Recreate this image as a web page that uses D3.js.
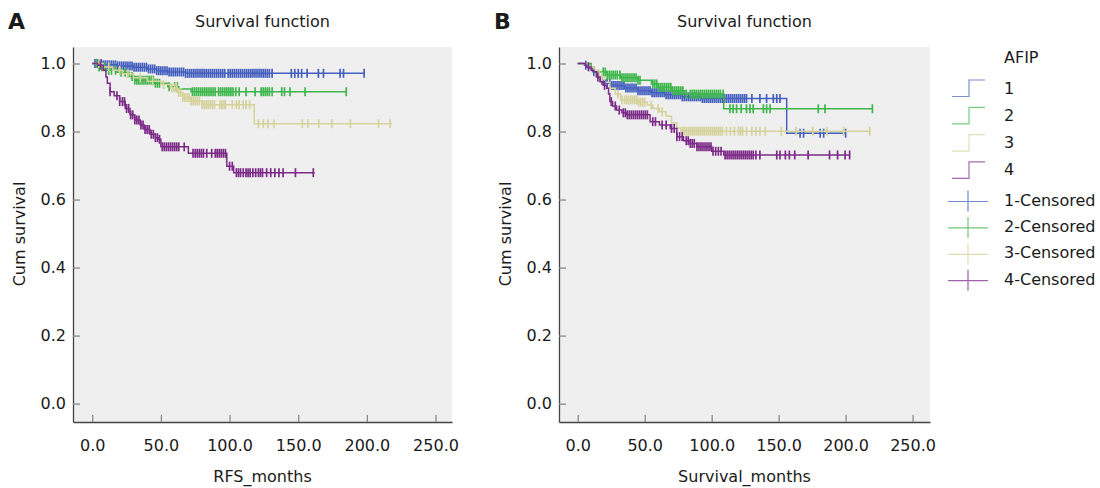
<!DOCTYPE html>
<html>
<head>
<meta charset="utf-8">
<script src="https://cdn.jsdelivr.net/npm/d3@7"></script>
<style>
  body { margin: 0; background: #fff; }
  svg text { font-family: "DejaVu Sans", Verdana, sans-serif; fill: #1a1a1a; }
</style>
</head>
<body>
<div id="chart"></div>
<script>
// ============================================================================
// DATA  ([time, survival after step])
// ============================================================================

const groups     = ["1", "2", "3", "4"];
const lineColors = ["#4560bf", "#3db64b", "#d6d29c", "#7d2b88"];
const yTicks     = [0, 0.2, 0.4, 0.6, 0.8, 1.0];
const xTicks     = [0, 50, 100, 150, 200, 250];

// Panel A — RFS
const rfsSteps = [
    [[0, 1], [8, 0.996], [18, 0.993], [30, 0.989], [40, 0.984], [47, 0.979], [55, 0.975], [68, 0.971]],
    [[0, 1], [5, 0.99], [10, 0.98], [18, 0.974], [27, 0.962], [31, 0.951], [45, 0.942], [55, 0.932], [63, 0.925], [72, 0.917]],
    [[0, 1], [8, 0.99], [15, 0.98], [22, 0.97], [30, 0.958], [40, 0.948], [50, 0.938], [57, 0.928], [62, 0.915], [66, 0.9], [72, 0.89], [80, 0.879], [118, 0.823]],
    [[0, 1], [4, 0.995], [8, 0.98], [10, 0.96], [11, 0.942], [13, 0.917], [16, 0.905], [20, 0.888], [24, 0.868], [27.5, 0.849],
     [31, 0.834], [35, 0.819], [38, 0.806], [42, 0.792], [46, 0.782], [48, 0.777], [50, 0.755], [70, 0.736], [98, 0.698], [103, 0.679]]
];
const rfsEnd = [198, 185, 218, 162];
const rfsCensored = [
    [2, 3.5, 5, 6.5, 8, 9.5, 11, 12.5, 14, 15.5, 17, 18.5, 20, 21.5, 23, 24.5, 26, 27.5, 29, 30.5, 32, 33.5, 35, 36.5, 38,
     39.5, 41, 42.5, 44, 45.5, 47, 48.5, 50, 51.5, 53, 54.5, 56, 57.5, 59, 60.5, 62, 63.5, 65, 66.5, 68, 69.5, 71, 72.5,
     74, 75.5, 77, 78.5, 80, 81.5, 83, 84.5, 86, 87.5, 89, 90.5, 92, 93.5, 95, 96.5, 99, 100.5, 102, 103.5, 105, 106.5,
     108, 109.5, 111, 112.5, 114, 115.5, 117, 118.5, 120, 121.5, 123, 124.5, 126, 127.5, 129, 131,
     145, 147.5, 150, 152.5, 156.5, 164.7, 168.4, 180.5, 183, 198],
    [3, 5, 7, 9, 12, 14, 17, 21, 24, 29, 31, 32.5, 34, 35.5, 37, 38.5, 40, 41.5, 43, 44.5, 46, 47.5, 49, 56, 60, 62,
     73, 74.5, 76, 77.5, 79, 80.5, 82, 83.5, 85, 86.5, 88, 89.5, 92, 93.5, 95, 96.5, 98, 99.5, 101, 102.5, 104.5,
     107, 112, 118.6, 123, 124.5, 126, 127.5, 129, 131, 138, 140, 144, 155, 185],
    [5, 12, 20, 26, 35, 44, 52, 58, 60, 61.5, 63, 64.5, 66, 67.5, 69, 70.5, 72, 73.5, 75, 76.5, 78, 80, 81.5, 83,
     84.5, 86, 87.5, 89, 93, 94.5, 96, 97, 102, 105, 107, 110, 112, 114.6, 121, 124.6, 128, 132.4, 153, 157, 165,
     174.5, 188, 208.5, 217],
    [6, 13, 18, 20, 22, 23.5, 25, 26.5, 28, 29.5, 31, 32.5, 34, 35.5, 37, 38.5, 40, 41.5, 43, 44.5, 46, 47.5, 49, 51,
     52.5, 54, 55.5, 57, 58.5, 60, 61.5, 63, 67, 73.4, 75, 76.5, 78, 79.5, 81, 83.4, 87, 89.6, 91, 92.5, 94, 95.5, 97,
     100, 102, 105, 106.5, 108, 110, 112, 113.5, 115, 117, 119, 121, 122.5, 124, 127, 130, 133, 136, 139, 148, 161]
];

// Panel B — overall survival
const osSteps = [
    [[0, 1], [5, 0.995], [8, 0.985], [11, 0.976], [14, 0.962], [17, 0.951], [21, 0.942], [25, 0.935], [35, 0.928],
     [45, 0.92], [55, 0.914], [65, 0.908], [78, 0.902], [92, 0.897], [156, 0.795]],
    [[0, 1], [10, 0.99], [12, 0.975], [22, 0.966], [32, 0.958], [45, 0.951], [55, 0.94], [60, 0.93], [70, 0.92], [80, 0.91], [109, 0.867]],
    [[0, 1], [8, 0.99], [12, 0.98], [16, 0.961], [20, 0.945], [24, 0.927], [28, 0.91], [32, 0.893], [45, 0.886], [52, 0.878],
     [56, 0.868], [61, 0.858], [66, 0.845], [70, 0.825], [74, 0.81], [77, 0.801]],
    [[0, 1], [6, 0.99], [10, 0.98], [12, 0.976], [14, 0.96], [16.6, 0.946], [19, 0.936], [21.6, 0.927], [23, 0.91], [24, 0.888],
     [26, 0.875], [29, 0.863], [33, 0.855], [36.5, 0.849], [54, 0.829], [61, 0.819], [69, 0.809], [74, 0.785], [79, 0.773],
     [84, 0.765], [89, 0.755], [100, 0.742], [109, 0.731]]
];
const osEnd = [200, 220, 218, 203];
const osCensored = [
    [6, 12, 18, 22, 24, 25.5, 27, 28.5, 30, 31.5, 33, 34.5, 36, 37.5, 39, 40.5, 42, 43.5, 45, 46.5, 48, 49.5, 51, 52.5,
     54, 55.5, 57, 58.5, 60, 61.5, 63, 64.5, 66, 67.5, 69, 70.5, 72, 73.5, 75, 76.5, 78, 79.5, 81, 82.5, 84, 85.5, 87,
     88.5, 90, 91.5, 93, 94.5, 96, 97.5, 99, 100.5, 102, 103.5, 105, 106.5, 108, 109.5, 111, 112.5, 114, 115.5, 117,
     118.5, 120, 121.5, 123, 124.5, 126, 130, 136, 141, 146, 148.6, 151, 166, 168.6, 181, 183.6, 200],
    [19, 20.5, 22, 23.5, 25, 26.5, 28, 29.5, 31.5, 33, 34.5, 36, 37.5, 39, 40.5, 42, 43.5, 45, 46.5, 56, 57.5, 59, 60.5,
     62, 63.5, 65, 66.5, 68, 69.5, 71, 72.5, 74, 75.5, 77, 78.5, 81, 84, 85.5, 87, 88.5, 90, 91.5, 93, 94.5, 96, 97.5,
     99, 100.5, 102, 103.5, 105, 106.5, 108.6, 113.6, 116, 118.6, 122, 126, 128.6, 131, 138.6, 141, 143.6, 179.6, 184.6, 220],
    [18, 30, 33, 35, 36.5, 38, 39.5, 41, 42.5, 44, 45.5, 47, 48.5, 50, 55, 60, 63, 78, 79.5, 81, 82.5, 84, 85.5, 87,
     88.5, 90, 91.5, 93, 94.5, 96, 97.5, 99, 100.5, 102, 103.5, 105, 106.5, 108, 111, 114, 117, 120, 121.5, 123, 126,
     130, 133, 136, 140, 152, 163, 175.5, 186, 198.5, 218],
    [8, 15, 20, 25, 28, 31, 34, 35.5, 37, 38.5, 40, 41.5, 43, 44.5, 46, 47.5, 49, 50.5, 52, 56, 58, 63, 66, 70, 72,
     74, 76, 78, 81, 82.5, 84, 85.5, 87, 89, 90.5, 92, 93.5, 95, 96.5, 98, 99.5, 101, 103, 105, 107, 110, 111.5, 113,
     114.5, 116, 117.5, 119, 120.5, 122, 123.5, 125, 126.5, 128, 129.5, 131, 133, 136,
     148.6, 151, 155, 158, 162, 172, 188, 194, 199.6, 203]
];


// ============================================================================
// SETUP
// ============================================================================

const svg = d3.select("#chart")
    .append("svg")
    .attr("width", 1100)
    .attr("height", 488);

const panels = [
    { letter: "A", xLabel: "RFS_months",      left: 73,  right: 452, xMax: 262, steps: rfsSteps, ends: rfsEnd, cens: rfsCensored },
    { letter: "B", xLabel: "Survival_months", left: 559, right: 930, xMax: 263, steps: osSteps,  ends: osEnd,  cens: osCensored }
];
const plotTop = 47, plotBottom = 422;

// survival value at time t (right-continuous step function)
function survAt(steps, t) {
    let s = steps[0][1];
    for (const [time, val] of steps) {
        if (time <= t) s = val;
    }
    return s;
}


// ============================================================================
// DRAW PANELS
// ============================================================================

panels.forEach(p => {
    const x = d3.scaleLinear()
        .domain([-14, p.xMax])
        .range([p.left, p.right]);

    const y = d3.scaleLinear()
        .domain([-0.054, 1.0485])
        .range([plotBottom, plotTop]);

    const g = svg.append("g");

    g.append("rect")
        .attr("x", p.left)
        .attr("y", plotTop)
        .attr("width", p.right - p.left)
        .attr("height", plotBottom - plotTop)
        .attr("fill", "#efefef");

    // axes, ticks pointing inward
    const yAxis = g.append("g")
        .attr("transform", `translate(${p.left},0)`)
        .call(d3.axisLeft(y).tickValues(yTicks).tickFormat(d3.format(".1f"))
            .tickSizeInner(-7).tickSizeOuter(0).tickPadding(7));

    const xAxis = g.append("g")
        .attr("transform", `translate(0,${plotBottom})`)
        .call(d3.axisBottom(x).tickValues(xTicks).tickFormat(d3.format(".1f"))
            .tickSizeInner(-7).tickSizeOuter(0).tickPadding(18));

    [yAxis, xAxis].forEach(a => {
        a.select(".domain").attr("stroke", "#444").attr("stroke-width", 1.3);
        a.selectAll(".tick line").attr("stroke", "#8a8a8a").attr("stroke-width", 1.3);
        a.selectAll(".tick text")
            .style("font-family", "DejaVu Sans, Verdana, sans-serif")
            .style("font-size", "16px")
            .attr("fill", "#1a1a1a");
    });

    // survival curves + censor ticks
    const line = d3.line()
        .x(d => x(d[0]))
        .y(d => y(d[1]))
        .curve(d3.curveStepAfter);

    p.steps.forEach((steps, i) => {
        const pts = [...steps, [p.ends[i], steps[steps.length - 1][1]]];

        g.append("path")
            .datum(pts)
            .attr("d", line)
            .attr("fill", "none")
            .attr("stroke", lineColors[i])
            .attr("stroke-width", 1.5);

        g.selectAll(null)
            .data(p.cens[i])
            .join("line")
            .attr("x1", d => x(d)).attr("x2", d => x(d))
            .attr("y1", d => y(survAt(steps, d)) - 4.5)
            .attr("y2", d => y(survAt(steps, d)) + 4.5)
            .attr("stroke", lineColors[i])
            .attr("stroke-width", 1.7);
    });

    const cx = (p.left + p.right) / 2;

    svg.append("text")
        .attr("x", cx)
        .attr("y", 27)
        .attr("text-anchor", "middle")
        .style("font-size", "16px")
        .text("Survival function");

    svg.append("text")
        .attr("x", cx)
        .attr("y", 482)
        .attr("text-anchor", "middle")
        .style("font-size", "16px")
        .text(p.xLabel);

    svg.append("text")
        .attr("transform", "rotate(-90)")
        .attr("x", -234)
        .attr("y", p.left - 48)
        .attr("text-anchor", "middle")
        .style("font-size", "16px")
        .text("Cum survival");

    svg.append("text")
        .attr("x", p.left - 65)
        .attr("y", 29)
        .style("font-size", "22px")
        .style("font-weight", "bold")
        .attr("fill", "#111")
        .text(p.letter);
});


// ============================================================================
// LEGEND
// ============================================================================

const legend = svg.append("g");

legend.append("text")
    .attr("x", 1004)
    .attr("y", 57)
    .attr("dominant-baseline", "central")
    .style("font-size", "16px")
    .text("AFIP");

groups.forEach((grp, i) => {
    const cy = 88 + i * 27.3;
    legend.append("path")
        .attr("d", `M952,${cy + 8.5}H969V${cy - 8}H985`)
        .attr("fill", "none")
        .attr("stroke", lineColors[i])
        .attr("stroke-opacity", 0.7)
        .attr("stroke-width", 1.2);
    legend.append("text")
        .attr("x", 1004)
        .attr("y", cy)
        .attr("dominant-baseline", "central")
        .style("font-size", "16px")
        .text(grp);
});

groups.forEach((grp, i) => {
    const cy = 200 + i * 26.4;
    legend.append("path")
        .attr("d", `M948,${cy + 1.5}H988M968,${cy - 9.5}V${cy + 11.5}`)
        .attr("fill", "none")
        .attr("stroke", lineColors[i])
        .attr("stroke-opacity", 0.75)
        .attr("stroke-width", 1.2);
    legend.append("text")
        .attr("x", 1004)
        .attr("y", cy)
        .attr("dominant-baseline", "central")
        .style("font-size", "16px")
        .text(`${grp}-Censored`);
});
</script>
</body>
</html>
